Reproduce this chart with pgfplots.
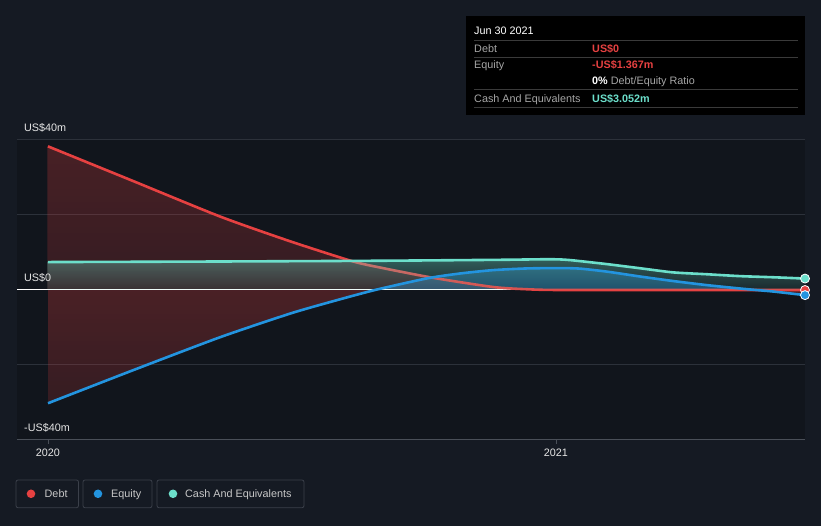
\documentclass[border=0pt]{standalone}
\usepackage{fontspec}
\setmainfont{Liberation Sans}
\usepackage{pgfplots}
\pgfplotsset{compat=1.18}
\usepackage{pgfplotstable}
\usetikzlibrary{fadings}
\definecolor{bg}{HTML}{151A23}
\definecolor{plotbg}{HTML}{11151C}
\definecolor{gridc}{HTML}{2C313A}
\definecolor{axisc}{HTML}{4A4F58}
\definecolor{debtc}{HTML}{E64141}
\definecolor{eqc}{HTML}{2394DF}
\definecolor{cashc}{HTML}{6CDFCB}
\definecolor{labelc}{HTML}{E6E6E6}
\definecolor{graytxt}{HTML}{A6A6A6}
\definecolor{sepc}{HTML}{3A3A3A}
\definecolor{legbord}{HTML}{3B404A}
\definecolor{legtxt}{HTML}{C8C8C8}

\tikzfading[name=fadedebt, top color=transparent!74, bottom color=transparent!83]
\tikzfading[name=fadeeq, top color=transparent!73, bottom color=transparent!83]
\tikzfading[name=fadecash, top color=transparent!64, bottom color=transparent!90]

% t = years after 1 Jan 2020
\pgfplotstableread{
t v
0.0000 38.3
0.1614 29.4
0.3386 19.6
0.4764 13.0
0.5984 7.7
0.6535 6.0
0.7559 3.3
0.8760 0.8
0.9429 0.2
1.0079 0.0
1.2835 0.0
1.4902 0.0
}\debt

\pgfplotstableread{
t v
0.0000 -30.2
0.1673 -21.4
0.3386 -12.6
0.4764 -6.3
0.5610 -3.0
0.6437 0.0
0.7461 3.1
0.8110 4.4
0.8760 5.3
0.9429 5.75
1.0079 5.85
1.0472 5.7
1.1004 4.9
1.1654 3.6
1.2303 2.4
1.2972 1.3
1.3622 0.4
1.3937 0.0
1.4272 -0.4
1.4902 -1.367
}\equity

\pgfplotstableread{
t v
0.0000 -30.2
0.1673 -21.4
0.3386 -12.6
0.4764 -6.3
0.5610 -3.0
0.6437 0.0
}\equityneg

\pgfplotstableread{
t v
0.6437 0.0
0.7461 3.1
0.8110 4.4
0.8760 5.3
0.9429 5.75
1.0079 5.85
1.0472 5.7
1.1004 4.9
1.1654 3.6
1.2303 2.4
1.2972 1.3
1.3622 0.4
1.3937 0.0
}\equitypos

\pgfplotstableread{
t v
1.3937 0.0
1.4272 -0.4
1.4902 -1.367
}\equitytail

\pgfplotstableread{
t v
0.0000 7.45
0.3386 7.6
0.6535 7.8
0.8898 8.05
0.9783 8.2
1.0079 8.15
1.0335 7.9
1.1004 6.9
1.1654 5.8
1.2303 4.7
1.2972 4.2
1.3622 3.7
1.4272 3.4
1.4902 3.052
}\cash

\begin{document}
\fontsize{10.8bp}{13bp}\selectfont
\begin{tikzpicture}
\fill[bg] (0bp,0bp) rectangle (821bp,526bp);
\useasboundingbox (0bp,0bp) rectangle (821bp,526bp);
\begin{axis}[
  at={(17bp,86bp)}, anchor=south west,
  scale only axis, width=788bp, height=300bp,
  xmin=-0.061, xmax=1.4902, ymin=-40, ymax=40,
  axis x line*=bottom, axis y line*=left,
  axis line style={-},
  x axis line style={draw=axisc, line width=1bp},
  y axis line style={draw=none},
  xtick={0,1}, xticklabels={2020,2021},
  ytick={-20,0,20,40}, yticklabels={},
  ymajorgrids, grid style={gridc, line width=1bp},
  tick align=outside, major tick length=4bp,
  xtick style={axisc, line width=0.8bp},
  ytick style={draw=none},
  xticklabel style={text=labelc, font=\fontsize{10.8bp}{13bp}\selectfont, yshift=-1bp},
  axis background/.style={fill=plotbg},
]
\addplot[fill=debtc, path fading=fadedebt, draw=none, smooth, tension=0.4] table[x=t,y=v] {\debt} \closedcycle;
\addplot[fill=debtc, path fading=fadeeq, draw=none, smooth, tension=0.4] table[x=t,y=v] {\equityneg} \closedcycle;
\addplot[fill=eqc, fill opacity=0.36, draw=none, smooth, tension=0.4] table[x=t,y=v] {\equitypos} \closedcycle;
\addplot[fill=debtc, fill opacity=0.25, draw=none, smooth, tension=0.4] table[x=t,y=v] {\equitytail} \closedcycle;

\addplot[white, line width=1bp] coordinates {(-0.061,0) (1.4902,0)};
\addplot[debtc, line width=2.6bp, smooth, tension=0.4] table[x=t,y=v] {\debt};
\addplot[fill=cashc, path fading=fadecash, draw=none, smooth, tension=0.4] table[x=t,y=v] {\cash} \closedcycle;
\addplot[eqc, line width=2.6bp, smooth, tension=0.4] table[x=t,y=v] {\equity};
\addplot[cashc, line width=2.6bp, smooth, tension=0.4] table[x=t,y=v] {\cash};

\addplot[only marks, mark=*, mark size=4.5bp, mark options={fill=debtc, draw=white, line width=0.8bp}] coordinates {(1.4902,0)};
\addplot[only marks, mark=*, mark size=4.5bp, mark options={fill=eqc, draw=white, line width=0.8bp}] coordinates {(1.4902,-1.367)};
\addplot[only marks, mark=*, mark size=4.5bp, mark options={fill=cashc, draw=white, line width=0.8bp}] coordinates {(1.4902,3.052)};
\end{axis}

% y labels
\node[anchor=base west, inner sep=0, text=labelc] at (24bp,394bp) {US\$40m};
\node[anchor=base west, inner sep=0, text=labelc] at (24bp,244bp) {US\$0};
\node[anchor=base west, inner sep=0, text=labelc] at (24bp,94bp) {-US\$40m};

% tooltip
\fill[black] (466bp,411bp) rectangle (805bp,510bp);
\foreach \yy in {485.7,468.7,436,418.7} \draw[sepc, line width=1bp] (474bp,\yy bp) -- (798bp,\yy bp);
\node[anchor=base west, inner sep=0, text=white] at (474bp,491bp) {Jun 30 2021};
\node[anchor=base west, inner sep=0, text=graytxt] at (474bp,473.7bp) {Debt};
\node[anchor=base west, inner sep=0, text=graytxt] at (474bp,457bp) {Equity};
\node[anchor=base west, inner sep=0, text=graytxt] at (474bp,423.7bp) {Cash And Equivalents};
\node[anchor=base west, inner sep=0, text=debtc] at (592bp,473.7bp) {\bfseries US\$0};
\node[anchor=base west, inner sep=0, text=debtc] at (592bp,457bp) {\bfseries -US\$1.367m};
\node[anchor=base west, inner sep=0, text=graytxt] at (592bp,441bp) {\textcolor{white}{\bfseries 0\%} Debt/Equity Ratio};
\node[anchor=base west, inner sep=0, text=cashc] at (592bp,423.7bp) {\bfseries US\$3.052m};

% legend
\draw[legbord, line width=0.8bp, rounded corners=2bp] (16bp,18.3bp) rectangle (78.5bp,46bp);
\draw[legbord, line width=0.8bp, rounded corners=2bp] (83bp,18.3bp) rectangle (152bp,46bp);
\draw[legbord, line width=0.8bp, rounded corners=2bp] (157bp,18.3bp) rectangle (304bp,46bp);
\fill[debtc] (31bp,32.2bp) circle (4.3bp);
\fill[eqc] (98bp,32.2bp) circle (4.3bp);
\fill[cashc] (173bp,32.2bp) circle (4.3bp);
\node[anchor=base west, inner sep=0, text=legtxt] at (44.5bp,28.4bp) {Debt};
\node[anchor=base west, inner sep=0, text=legtxt] at (111bp,28.4bp) {Equity};
\node[anchor=base west, inner sep=0, text=legtxt] at (185bp,28.4bp) {Cash And Equivalents};
\end{tikzpicture}
\end{document}
